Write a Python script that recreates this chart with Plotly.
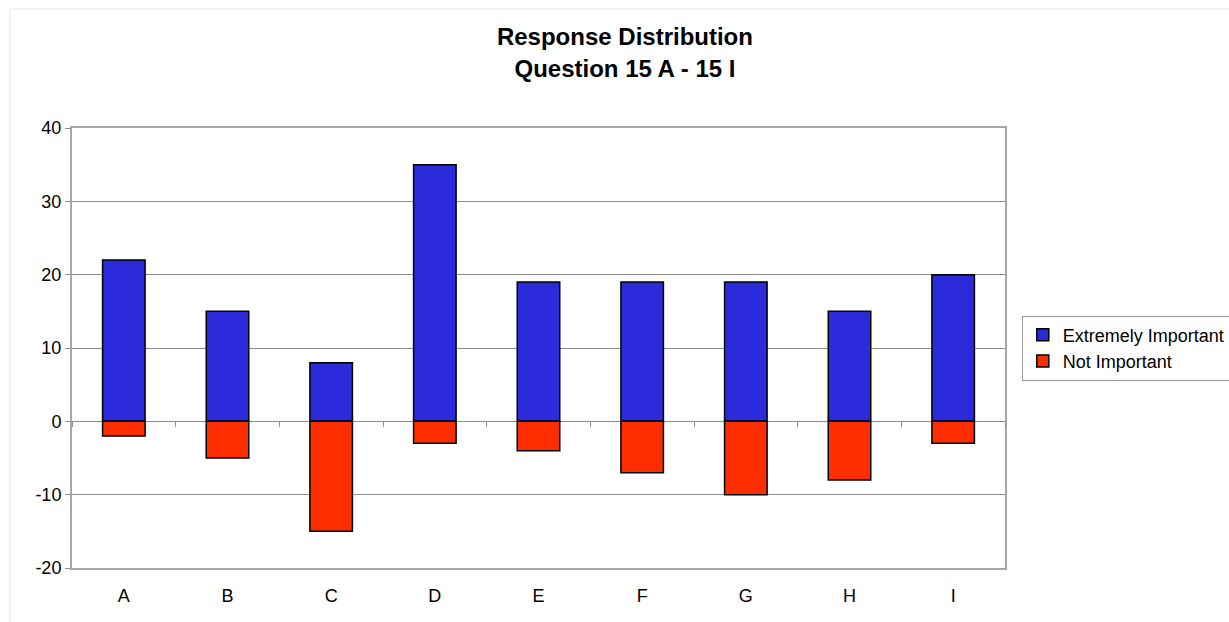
import plotly.graph_objects as go

categories = ["A", "B", "C", "D", "E", "F", "G", "H", "I"]
extremely_important = [22, 15, 8, 35, 19, 19, 19, 15, 20]
not_important = [-2, -5, -15, -3, -4, -7, -10, -8, -3]
y_tick_values = [-20, -10, 0, 10, 20, 30, 40]
y_tick_labels = ["-20", "-10", "0", "10", "20", "30", "40"]

FONT = "Liberation Sans, Arial, sans-serif"
GRID = "#8c8c8c"
FRAME = "#a6a6a6"

fig = go.Figure()
fig.add_trace(go.Bar(
    x=categories, y=extremely_important, name="Extremely Important",
    marker=dict(color="#2B2BDC", line=dict(color="black", width=1.5)),
    width=0.41,
))
fig.add_trace(go.Bar(
    x=categories, y=not_important, name="Not Important",
    marker=dict(color="#FF2E00", line=dict(color="black", width=1.5)),
    width=0.41,
))
# invisible trace on an overlaid axis that carries the category boundary ticks on the zero line
fig.add_trace(go.Scatter(x=categories, y=[0] * len(categories), xaxis="x2",
                         mode="markers", marker=dict(opacity=0),
                         showlegend=False, hoverinfo="skip"))

y_min, y_max = y_tick_values[0], y_tick_values[-1]

fig.update_layout(
    width=1229, height=622,
    margin=dict(l=72, r=224, t=128, b=54, autoexpand=False),
    paper_bgcolor="white", plot_bgcolor="white",
    barmode="relative",
    font=dict(family=FONT, color="black", size=18),
    title=dict(
        text="<b>Response Distribution<br>Question 15 A - 15 I</b>",
        x=0.5085, xanchor="center", y=0.927, yanchor="middle",
        font=dict(family=FONT, size=24, color="black"),
    ),
    xaxis=dict(
        type="category", showgrid=False, zeroline=False,
        showline=True, linecolor=FRAME, linewidth=2, mirror=True,
        ticks="", ticklabelstandoff=10, tickfont=dict(size=18),
    ),
    xaxis2=dict(
        type="category", overlaying="x", matches="x", anchor="free",
        position=(0 - y_min) / (y_max - y_min),
        showgrid=False, zeroline=False, showline=False,
        ticks="outside", tickson="boundaries", ticklen=5, tickwidth=1,
        tickcolor=GRID, showticklabels=False,
    ),
    yaxis=dict(
        range=[y_min, y_max], tickvals=y_tick_values, ticktext=y_tick_labels,
        showgrid=True, gridcolor=GRID, gridwidth=1,
        zeroline=True, zerolinecolor=GRID, zerolinewidth=1,
        showline=True, linecolor=FRAME, linewidth=2, mirror=True,
        ticks="outside", ticklen=5, tickcolor=GRID, tickfont=dict(size=18),
    ),
    legend=dict(
        x=1.018, xanchor="left", y=0.5, yanchor="middle",
        bordercolor="#9a9a9a", borderwidth=1, bgcolor="white",
        font=dict(family=FONT, size=18, color="black"),
        itemwidth=30, tracegroupgap=0,
    ),
    showlegend=True,
    shapes=[dict(
        type="rect", xref="paper", yref="paper",
        x0=-62 / 933, x1=1.4, y0=-0.3, y1=(568 - 9) / 440,
        line=dict(color="#e6e6e6", width=1), fillcolor="rgba(0,0,0,0)", layer="below",
    )],
)

fig.write_html("out.html")
